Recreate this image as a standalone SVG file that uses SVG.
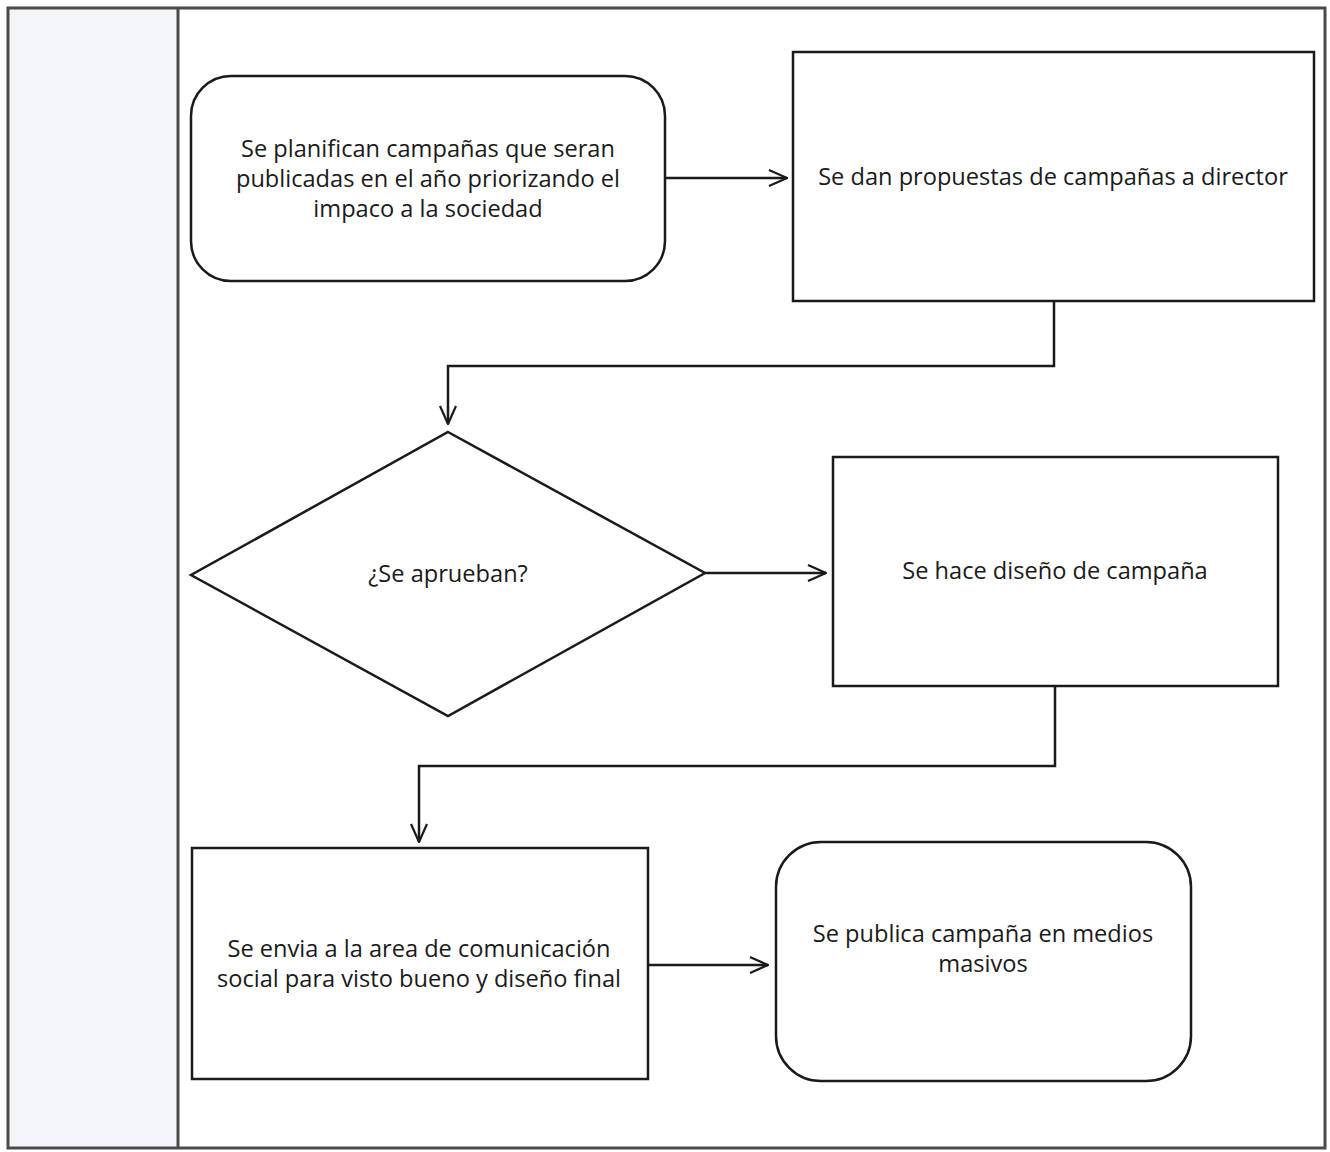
<svg xmlns="http://www.w3.org/2000/svg" width="1330" height="1152" viewBox="0 0 1330 1152">
<defs>
<marker id="arr" viewBox="0 0 20 20" refX="19" refY="10" markerWidth="20" markerHeight="20" markerUnits="userSpaceOnUse" orient="auto">
<path d="M1,2 L19,10 L1,18" fill="none" stroke="#1a1a1a" stroke-width="2.2"/>
</marker>
</defs>
<style>
.shape{fill:#fff;stroke:#1a1a1a;stroke-width:2.5}
.conn{fill:none;stroke:#1a1a1a;stroke-width:2.5}
.t{font-family:"Open Sans","Liberation Sans",sans-serif;font-size:23.6px;fill:#1a1a1a;text-anchor:middle;dominant-baseline:middle}
</style>
<rect x="0" y="0" width="1330" height="1152" fill="#fff"/>
<g id="frame">
<rect x="8" y="8" width="170" height="1140" fill="#f3f5f8"/>
<rect x="8" y="8" width="1317" height="1140" fill="none" stroke="#4a4a4a" stroke-width="3"/>
<line x1="178" y1="8" x2="178" y2="1148" stroke="#4a4a4a" stroke-width="3"/>
</g>
<g id="connectors">
<line class="conn" x1="665" y1="178" x2="787" y2="178" marker-end="url(#arr)"/>
<polyline class="conn" points="1054,301 1054,366 448,366 448,424" marker-end="url(#arr)"/>
<line class="conn" x1="705" y1="573" x2="826" y2="573" marker-end="url(#arr)"/>
<polyline class="conn" points="1055,686 1055,766 419,766 419,842" marker-end="url(#arr)"/>
<line class="conn" x1="648" y1="965" x2="768" y2="965" marker-end="url(#arr)"/>
</g>
<g id="n1">
<rect class="shape" x="191" y="76" width="474" height="205" rx="40" ry="40"/>
<text class="t" x="428" y="150.5">Se planifican campañas que seran</text>
<text class="t" x="428" y="180.5">publicadas en el año priorizando el</text>
<text class="t" x="428" y="210.5">impaco a la sociedad</text>
</g>
<g id="n2">
<rect class="shape" x="793" y="52" width="521" height="249"/>
<text class="t" x="1053" y="178.5">Se dan propuestas de campañas a director</text>
</g>
<g id="n3">
<polygon class="shape" points="448,432 705,573 448,716 191,575"/>
<text class="t" x="448" y="575.5">¿Se aprueban?</text>
</g>
<g id="n4">
<rect class="shape" x="833" y="457" width="445" height="229"/>
<text class="t" x="1055" y="572.5">Se hace diseño de campaña</text>
</g>
<g id="n5">
<rect class="shape" x="192" y="848" width="456" height="231"/>
<text class="t" x="419" y="950.5">Se envia a la area de comunicación</text>
<text class="t" x="419" y="980.5">social para visto bueno y diseño final</text>
</g>
<g id="n6">
<rect class="shape" x="776" y="842" width="415" height="239" rx="45" ry="45"/>
<text class="t" x="983" y="935.5">Se publica campaña en medios</text>
<text class="t" x="983" y="965.5">masivos</text>
</g>
</svg>
